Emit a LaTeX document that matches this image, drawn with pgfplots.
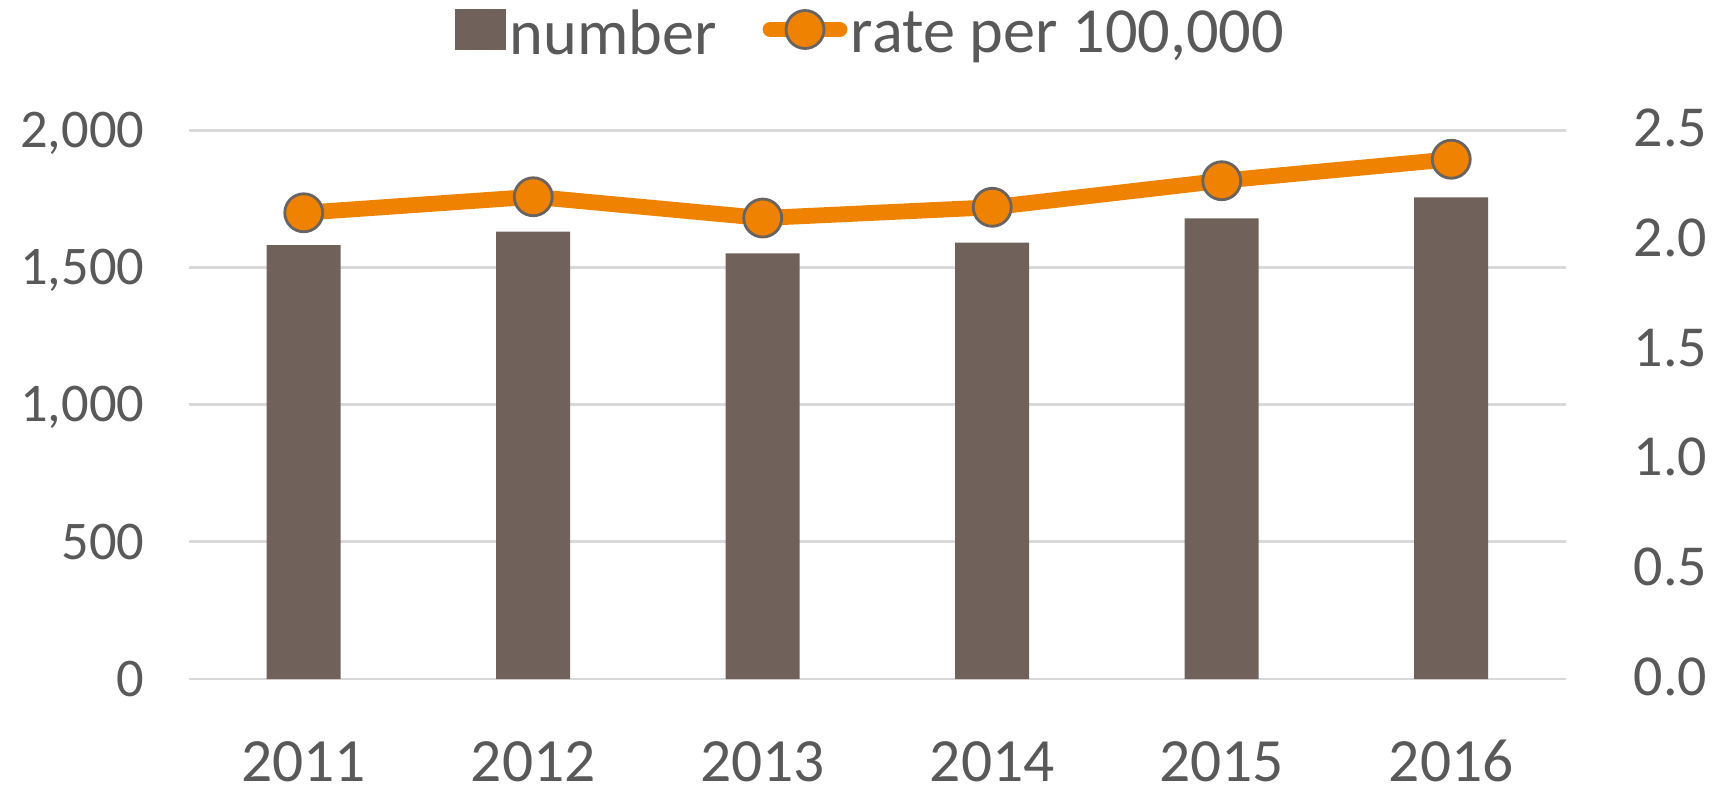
\documentclass[border=0pt]{standalone}
\usepackage{pgfplots}
\pgfplotsset{compat=1.18}
\usepackage{fontspec}
\setmainfont{Carlito}

\definecolor{barcol}{RGB}{112,98,90}
\definecolor{ratecol}{RGB}{239,130,0}
\definecolor{edgecol}{RGB}{105,100,98}
\definecolor{gridcol}{RGB}{217,217,217}
\definecolor{textcol}{RGB}{89,89,89}

\begin{document}
\begin{tikzpicture}
\path[use as bounding box] (-1.89cm,-1.06cm) rectangle (15.31cm,6.79cm);

\pgfplotsset{
  common/.style={
    scale only axis, width=13.77cm, height=5.485cm,
    at={(0,0)}, anchor=south west,
    xmin=-0.5, xmax=5.5, ymin=0,
    axis line style={draw=none},
    major tick length=0pt,
    tick style={draw=none},
    /pgf/number format/assume math mode=true,
    tick label style={text=textcol, inner sep=0pt},
    clip=false,
  }
}

% number of cases (left axis)
\begin{axis}[common,
  ymax=2000, ytick={0,500,...,2000},
  ymajorgrids, grid style={gridcol, line width=0.8pt},
  xtick={0,...,5}, xticklabels={2011,2012,2013,2014,2015,2016},
  scaled y ticks=false,
  /pgf/number format/1000 sep={,},
  yticklabel style={font=\fontsize{15.5}{18}\selectfont, anchor=base east, xshift=-0.44cm, yshift=-4.9pt},
  xticklabel style={font=\fontsize{17.5}{21}\selectfont, anchor=base, yshift=-1.02cm},
]
\addplot[ybar, bar width=0.74cm, bar shift=0pt, fill=barcol, draw=none]
  coordinates {(0,1582) (1,1631) (2,1552) (3,1591) (4,1680) (5,1756)};
\end{axis}

% rate per 100,000 (right axis)
\begin{axis}[common,
  ymax=2.5, ytick={0,0.5,...,2.5},
  xtick=\empty,
  yticklabel pos=right,
  yticklabel style={font=\fontsize{16.5}{20}\selectfont, anchor=base west, xshift=0.67cm, yshift=-4.6pt,
    /pgf/number format/.cd, fixed, fixed zerofill, precision=1},
  legend columns=2,
  legend cell align=left,
  legend style={at={(0.4955,1.175)}, anchor=center, draw=none, fill=none,
    font=\fontsize{18.3}{22}\selectfont,
    nodes={inner sep=1pt, text=textcol},
    /tikz/every even column/.append style={column sep=0.42cm}},
]
\addlegendimage{legend image code/.code={\fill[barcol] (0cm,-0.145cm) rectangle (0.5cm,0.245cm);}}
\addlegendentry{number}
\addplot[ratecol, line width=4.5pt, line cap=round, mark=*, mark size=5.4pt,
  mark options={draw=edgecol, fill=ratecol, line width=0.8pt},
  legend image code/.code={\draw[mark repeat=2, mark phase=2]
    plot coordinates {(0cm,0.05cm) (0.345cm,0.05cm) (0.69cm,0.05cm)};}]
  coordinates {(0,2.125) (1,2.198) (2,2.101) (3,2.150) (4,2.271) (5,2.369)};
\addlegendentry{rate per 100,000}
\end{axis}
\end{tikzpicture}
\end{document}
